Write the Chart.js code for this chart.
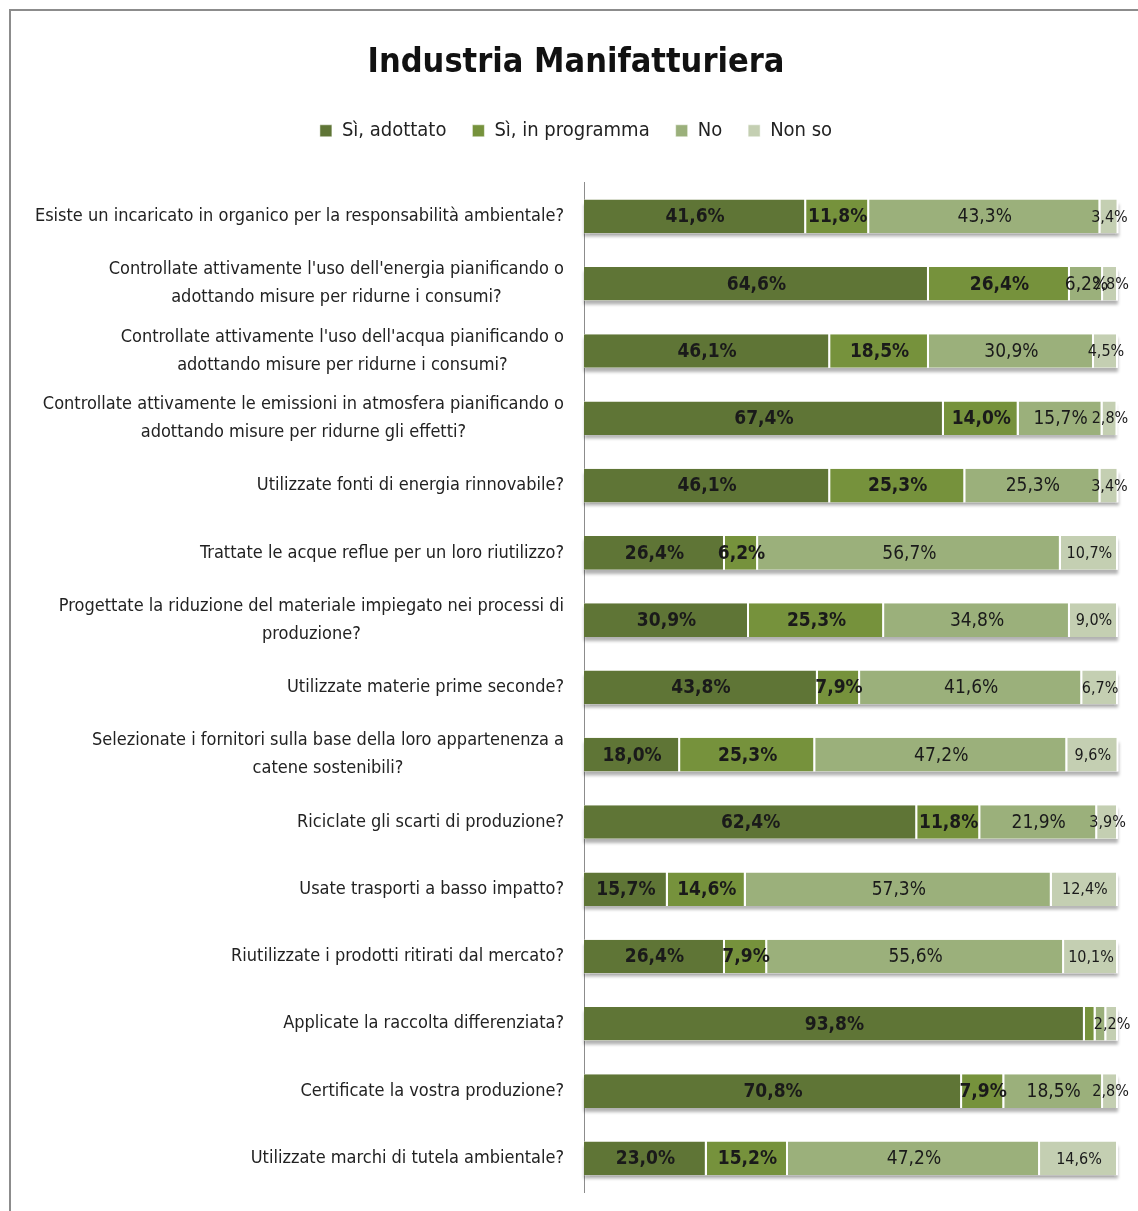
<!DOCTYPE html>
<html>
<head>
<meta charset="utf-8">
<title>Industria Manifatturiera</title>
<script src="https://cdn.jsdelivr.net/npm/chart.js@4/dist/chart.umd.min.js"></script>
<style>
  body { margin: 0; background: #fff; }
  #frame { position: absolute; left: 9px; top: 9px; width: 1200px; height: 1300px;
           border-top: 2px solid #8c8c8c; border-left: 2px solid #8c8c8c; }
  #c { position: absolute; left: 0; top: 0; }
</style>
</head>
<body>
<div id="frame"></div>
<canvas id="c" width="1138" height="1211"></canvas>
<script>
var FONT = "'Liberation Sans Narrow', 'DejaVu Sans Condensed', sans-serif";

var domande = [
    ["Esiste un incaricato in organico per la responsabilità ambientale?"],
    ["Controllate attivamente l'uso dell'energia pianificando o", "adottando misure per ridurne i consumi?"],
    ["Controllate attivamente l'uso dell'acqua pianificando o", "adottando misure per ridurne i consumi?"],
    ["Controllate attivamente le emissioni in atmosfera pianificando o", "adottando misure per ridurne gli effetti?"],
    ["Utilizzate fonti di energia rinnovabile?"],
    ["Trattate le acque reflue per un loro riutilizzo?"],
    ["Progettate la riduzione del materiale impiegato nei processi di", "produzione?"],
    ["Utilizzate materie prime seconde?"],
    ["Selezionate i fornitori sulla base della loro appartenenza a", "catene sostenibili?"],
    ["Riciclate gli scarti di produzione?"],
    ["Usate trasporti a basso impatto?"],
    ["Riutilizzate i prodotti ritirati dal mercato?"],
    ["Applicate la raccolta differenziata?"],
    ["Certificate la vostra produzione?"],
    ["Utilizzate marchi di tutela ambientale?"]
];

var siAdottato   = [41.6, 64.6, 46.1, 67.4, 46.1, 26.4, 30.9, 43.8, 18.0, 62.4, 15.7, 26.4, 93.8, 70.8, 23.0];
var siProgramma  = [11.8, 26.4, 18.5, 14.0, 25.3,  6.2, 25.3,  7.9, 25.3, 11.8, 14.6,  7.9,  2.0,  7.9, 15.2];
var no           = [43.3,  6.2, 30.9, 15.7, 25.3, 56.7, 34.8, 41.6, 47.2, 21.9, 57.3, 55.6,  2.0, 18.5, 47.2];
var nonSo        = [ 3.4,  2.8,  4.5,  2.8,  3.4, 10.7,  9.0,  6.7,  9.6,  3.9, 12.4, 10.1,  2.2,  2.8, 14.6];

var serie = ["Sì, adottato", "Sì, in programma", "No", "Non so"];
var colori = ["#5f7536", "#76923c", "#9bb07b", "#c4cfb2"];

// ombra sotto ogni barra intera
var ombra = {
    id: 'ombra',
    beforeDatasetsDraw: function(chart) {
        var ctx = chart.ctx;
        var primo = chart.getDatasetMeta(0).data;
        var ultimo = chart.getDatasetMeta(chart.data.datasets.length - 1).data;
        ctx.save();
        ctx.shadowColor = 'rgba(0,0,0,0.3)';
        ctx.shadowOffsetY = 4;
        ctx.shadowBlur = 3;
        ctx.fillStyle = '#ffffff';
        primo.forEach(function(bar, i) {
            var h = bar.height;
            ctx.fillRect(bar.base, bar.y - h / 2, ultimo[i].x - bar.base, h);
        });
        ctx.restore();
    }
};

// percentuali dentro i segmenti
var etichette = {
    id: 'etichette',
    afterDatasetsDraw: function(chart) {
        var ctx = chart.ctx;
        ctx.save();
        ctx.textAlign = 'center';
        ctx.textBaseline = 'middle';
        ctx.fillStyle = '#1a1a1a';
        chart.data.datasets.forEach(function(ds, d) {
            var meta = chart.getDatasetMeta(d);
            if (d < 2) ctx.font = 'bold 19px ' + FONT;
            else if (d == 2) ctx.font = '19px ' + FONT;
            else ctx.font = '16px ' + FONT;
            meta.data.forEach(function(bar, i) {
                var v = ds.data[i];
                if (v < 2.1) return;
                var txt = v.toFixed(1).replace('.', ',') + '%';
                ctx.fillText(txt, (bar.x + bar.base) / 2, bar.y + 1);
            });
        });
        ctx.restore();
    }
};

// domande a sinistra, righe centrate fra loro
var domandeAsse = {
    id: 'domandeAsse',
    afterDraw: function(chart) {
        var ctx = chart.ctx;
        var y = chart.scales.y;
        var destra = chart.chartArea.left - 20;
        ctx.save();
        ctx.font = '18px ' + FONT;
        ctx.fillStyle = '#222';
        ctx.textAlign = 'center';
        ctx.textBaseline = 'middle';
        domande.forEach(function(righe, i) {
            var w = 0;
            righe.forEach(function(r) { w = Math.max(w, ctx.measureText(r).width); });
            var cx = destra - w / 2;
            var cy = y.getPixelForValue(i);
            var lh = 28;
            righe.forEach(function(r, k) {
                ctx.fillText(r, cx, cy + (k - (righe.length - 1) / 2) * lh);
            });
        });
        ctx.restore();
    }
};

var datasets = [siAdottato, siProgramma, no, nonSo].map(function(d, i) {
    return {
        label: serie[i],
        data: d,
        backgroundColor: colori[i],
        borderColor: '#ffffff',
        borderWidth: { left: 0, top: 0, bottom: 0, right: 2 },
        borderSkipped: false,
        categoryPercentage: 0.5,
        barPercentage: 1.0
    };
});

var chart = new Chart(document.getElementById('c'), {
    type: 'bar',
    data: { labels: domande.map(function(r) { return r.join(' '); }), datasets: datasets },
    plugins: [ombra, etichette, domandeAsse],
    options: {
        indexAxis: 'y',
        responsive: false,
        animation: false,
        layout: { padding: { left: 34, right: 20, top: 0, bottom: 19 } },
        scales: {
            x: {
                stacked: true,
                min: 0,
                max: 100,
                display: false
            },
            y: {
                stacked: true,
                grid: { display: false },
                border: { display: true, color: '#8c8c8c', width: 1 },
                ticks: { display: false },
                afterFit: function(scale) { scale.width = 550; }
            }
        },
        plugins: {
            title: {
                display: true,
                text: 'Industria Manifatturiera',
                color: '#111',
                font: { family: FONT, size: 34, weight: 'bold' },
                padding: { top: 43, bottom: 11 }
            },
            // spazio vuoto fra legenda e barre
            subtitle: {
                display: true,
                text: ' ',
                weight: 1500,
                font: { size: 10 },
                padding: { top: 0, bottom: 20 }
            },
            legend: {
                position: 'top',
                weight: 1800,
                labels: {
                    boxWidth: 12,
                    boxHeight: 12,
                    padding: 26,
                    color: '#222',
                    font: { family: FONT, size: 20 }
                }
            },
            tooltip: { enabled: false }
        }
    }
});
</script>
</body>
</html>
